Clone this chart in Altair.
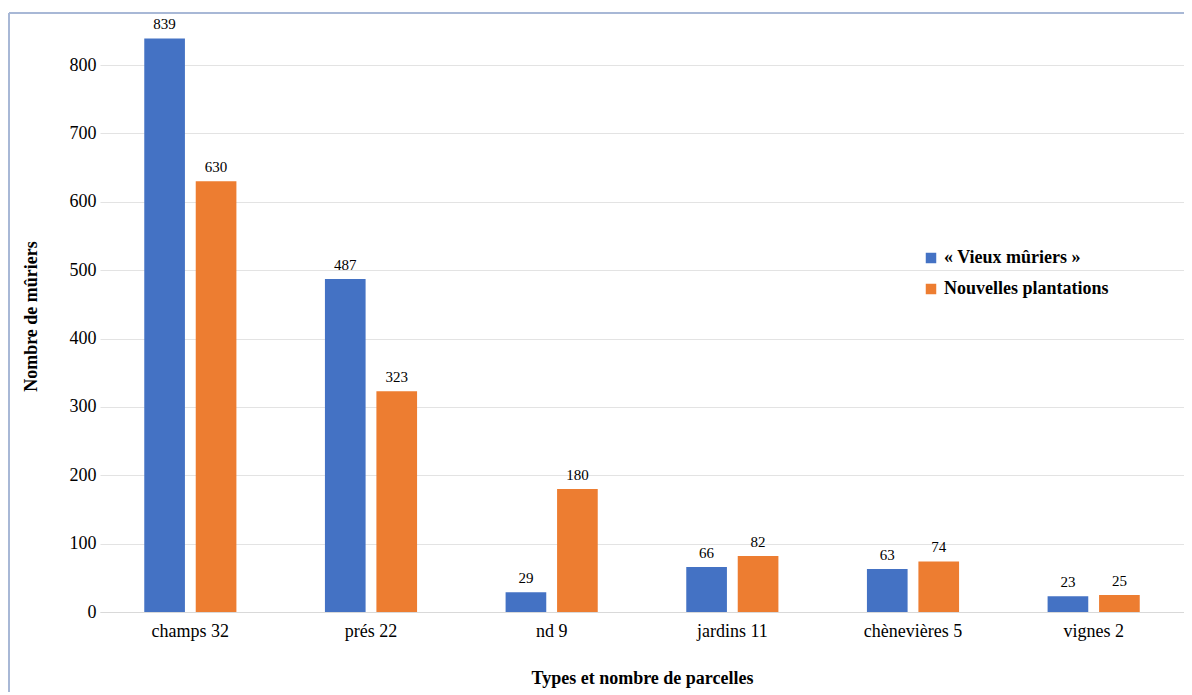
import altair as alt
import pandas as pd

categories = ["champs 32", "prés 22", "nd 9", "jardins 11", "chènevières 5", "vignes 2"]
series = ["« Vieux mûriers »", "Nouvelles plantations"]
vieux = [839, 487, 29, 66, 63, 23]
nouvelles = [630, 323, 180, 82, 74, 25]
y_ticks = [0, 100, 200, 300, 400, 500, 600, 700, 800]

rows = []
for c, v, n in zip(categories, vieux, nouvelles):
    rows.append({"cat": c, "serie": series[0], "val": v})
    rows.append({"cat": c, "serie": series[1], "val": n})
df = pd.DataFrame(rows)

FONT = "Liberation Serif"

x = alt.X("cat:N", sort=categories,
          scale=alt.Scale(paddingInner=0.49, paddingOuter=0.245),
          axis=alt.Axis(title="Types et nombre de parcelles", labelAngle=0,
                        labelFont=FONT, titleFont=FONT,
                        labelFontSize=18, labelPadding=10, ticks=False,
                        domainColor="#D9D9D9", titleFontSize=18, titleFontWeight="bold",
                        titlePadding=29, labelColor="#000", titleColor="#000"))
xo = alt.XOffset("serie:N", sort=series, scale=alt.Scale(paddingInner=0.21, paddingOuter=0))
y = alt.Y("val:Q", scale=alt.Scale(domain=[0, 866], nice=False),
          axis=alt.Axis(title="Nombre de mûriers", values=y_ticks,
                        labelFont=FONT, titleFont=FONT, labelFontSize=18,
                        labelPadding=4, ticks=False, domain=False, gridColor="#E3E3E3",
                        titleFontSize=18, titleFontWeight="bold", titlePadding=29,
                        labelColor="#000", titleColor="#000"))
color = alt.Color("serie:N", sort=series,
                  scale=alt.Scale(domain=series, range=["#4472C4", "#ED7D31"]),
                  legend=alt.Legend(title=None, orient="none", legendX=822, legendY=229,
                                    labelFont=FONT, labelFontSize=18, labelFontWeight="bold",
                                    symbolType="square", labelLimit=400,
                                    symbolSize=110, rowPadding=13, labelColor="#000",
                                    symbolStrokeWidth=0))

bars = alt.Chart(df).mark_bar().encode(x=x, xOffset=xo, y=y, color=color)
labels = alt.Chart(df).mark_text(baseline="bottom", dy=-6, fontSize=15, font=FONT, color="#000").encode(
    x=alt.X("cat:N", sort=categories), xOffset=alt.XOffset("serie:N", sort=series),
    y="val:Q", text="val:Q")

frame_left = alt.Chart(df).mark_rule(color="#A9B8D6", strokeWidth=1.5).encode(
    x=alt.value(-91), y=alt.value(-7), y2=alt.value(700))
frame_top = alt.Chart(df).mark_rule(color="#A9B8D6", strokeWidth=1.5).encode(
    x=alt.value(-91), x2=alt.value(1100), y=alt.value(-7))

chart = alt.layer(bars, labels, frame_left, frame_top).properties(
    width=1084, height=592,
    padding={"left": 92, "top": 12, "right": 0, "bottom": 80},
    autosize=alt.AutoSizeParams(type="none"),
).configure(font=FONT).configure_view(stroke=None)

chart.save("out.html", embed_options={"renderer": "svg", "actions": False})
